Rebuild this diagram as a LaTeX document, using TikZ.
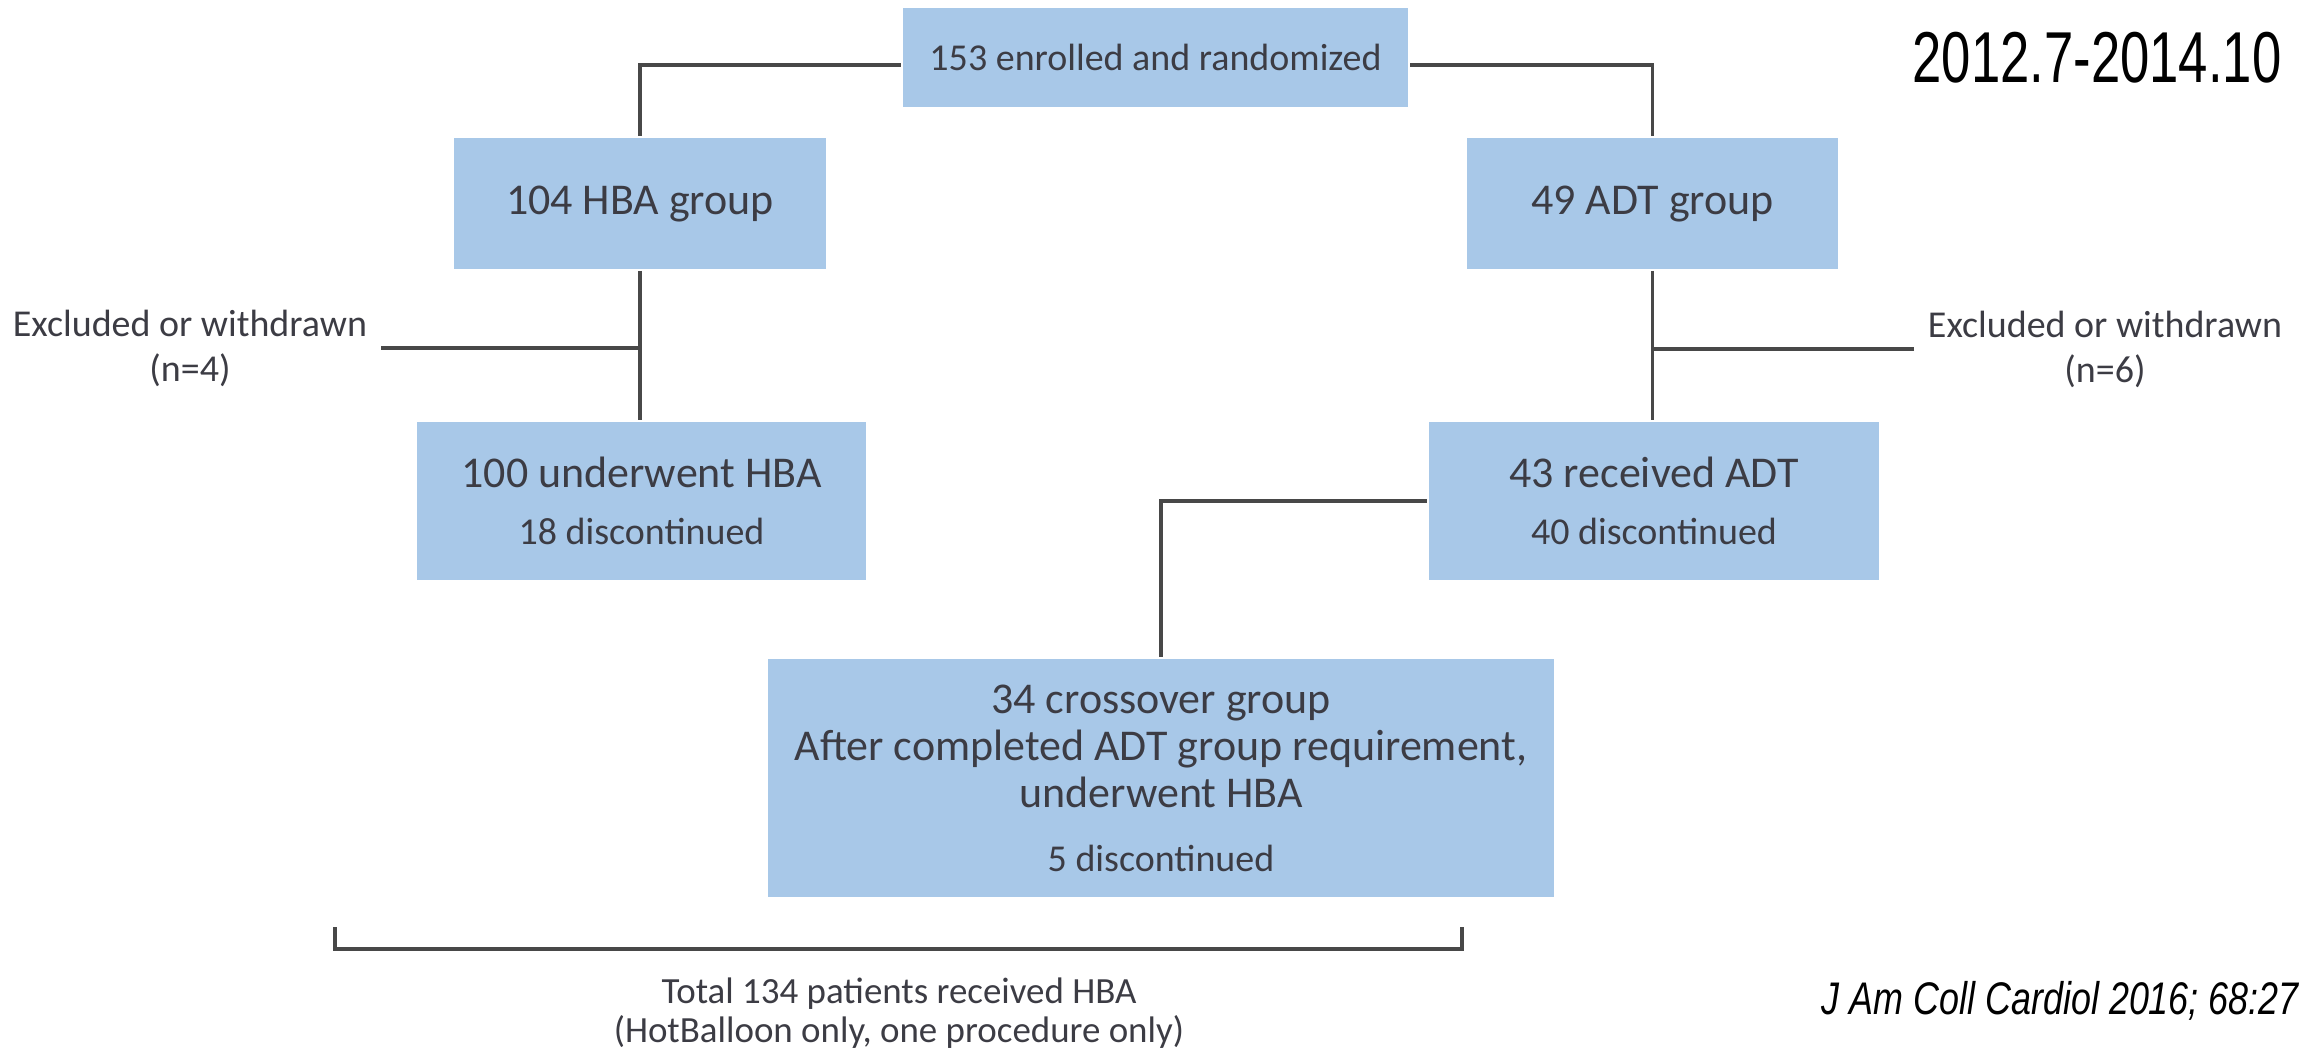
\documentclass[tikz,border=0pt]{standalone}
\usepackage{fontspec}
\setmainfont{Carlito}
\newfontfamily\datefont[FakeStretch=0.73]{Liberation Sans}
\newfontfamily\citefont[FakeStretch=0.785]{Liberation Sans}
\definecolor{boxblue}{HTML}{A8C8E8}
\definecolor{txtgray}{HTML}{3C3C44}
\definecolor{linegray}{HTML}{484848}

\begin{document}
\begin{tikzpicture}[x=0.01cm,y=-0.01cm,line width=1.1pt]
  \tikzstyle{every node}=[text=txtgray]
  \tikzstyle{box}=[fill=boxblue,draw=none,align=center,inner sep=0pt,font=\fontsize{12.5}{16.2}\selectfont]
  \tikzstyle{note}=[align=center,inner sep=0.12cm,font=\fontsize{10.8}{12.8}\selectfont]
  \tikzstyle{link}=[draw=linegray]

  \useasboundingbox (0,0) rectangle (2307,1056);

  \node[box,minimum width=5.05cm,minimum height=0.99cm,font=\fontsize{10.8}{13}\selectfont] (E) at (1155.5,57.5) {153 enrolled and randomized};
  \node[box,minimum width=3.72cm,minimum height=1.31cm] (H) at (640,203.5) {104 HBA group};
  \node[box,minimum width=3.71cm,minimum height=1.31cm] (D) at (1652.5,203.5) {49 ADT group};
  \node[box,minimum width=4.49cm,minimum height=1.58cm] (HU) at (641.5,501) {100 underwent HBA\\{\fontsize{10.8}{12}\selectfont 18 discontinued}};
  \node[box,minimum width=4.50cm,minimum height=1.58cm] (DR) at (1654,501) {43 received ADT\\{\fontsize{10.8}{12}\selectfont 40 discontinued}};
  \node[box,minimum width=7.86cm,minimum height=2.38cm,font=\fontsize{12.5}{13.5}\selectfont] (C) at (1161,778) {34 crossover group\\After completed ADT group requirement,\\underwent HBA\\[4.5pt]{\fontsize{10.8}{12}\selectfont 5 discontinued}};

  \node[note] (XL) at (190,348) {Excluded or withdrawn\\(n=4)};
  \node[note] (XR) at (2105,349) {Excluded or withdrawn\\(n=6)};
  \node[note,font=\fontsize{10.5}{11}\selectfont] (T) at (899,1013) {Total 134 patients received HBA\\(HotBalloon only, one procedure only)};

  \node[font=\datefont\fontsize{20.5}{24}\selectfont,text=black] (Y) at (2097,58) {2012.7-2014.10};
  \node[font=\citefont\itshape\fontsize{13}{15}\selectfont,text=black,anchor=base west,inner sep=0pt] (J) at (1820,1014) {J Am Coll Cardiol 2016; 68:27};

  % tree lines
  \draw[link] ([yshift=-0.075cm]E.west) -| (H.north);
  \draw[link] ([yshift=-0.075cm]E.east) -| (D.north);
  \draw[link] (H.south) -- (H.south |- HU.north);
  \draw[link] (D.south) -- (D.south |- DR.north);
  \draw[link] (XL.east) -- (XL.east -| H.south);
  \draw[link] (XR.west) -- (XR.west -| D.south);
  \draw[link] (DR.west) -| (C.north);

  % bracket
  \coordinate (BL) at (335,927);
  \coordinate (BR) at (1462,927);
  \draw[link] (BL) -- ++(0,22) -| (BR);
\end{tikzpicture}
\end{document}
